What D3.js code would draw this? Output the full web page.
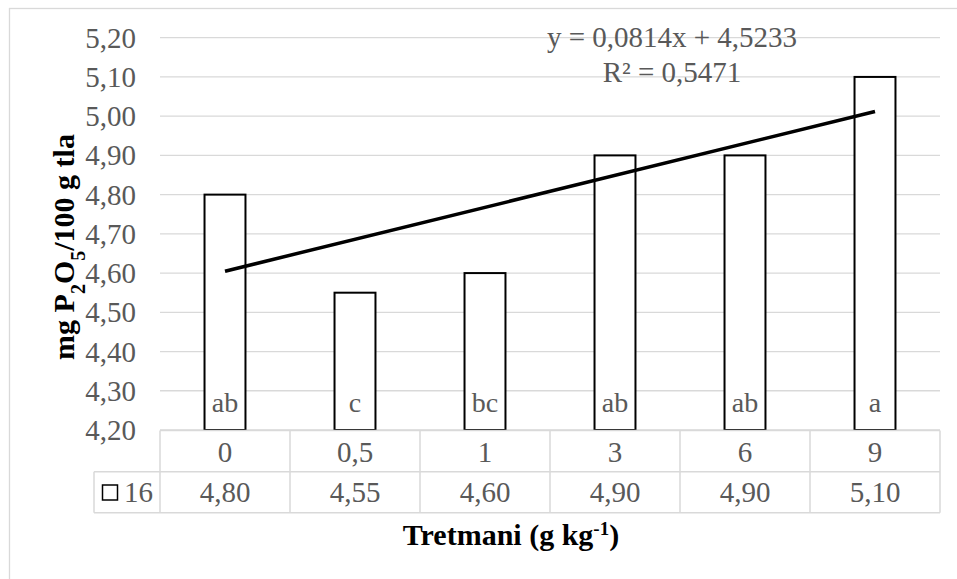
<!DOCTYPE html>
<html><head><meta charset="utf-8">
<script src="https://cdn.jsdelivr.net/npm/d3@7"></script>
</head>
<body style="margin:0">
<svg id="chart" width="957" height="579"></svg>
<script>
// podaci
const tretmani = ["0", "0,5", "1", "3", "6", "9"];
const vrijednosti = [4.80, 4.55, 4.60, 4.90, 4.90, 5.10];
const slova = ["ab", "c", "bc", "ab", "ab", "a"];
const serija = "16";
const yTicks = [4.2, 4.3, 4.4, 4.5, 4.6, 4.7, 4.8, 4.9, 5.0, 5.1, 5.2];

const FONT = "Times New Roman";
const svg = d3.select("#chart");
const siva = "#595959";
const linija = "#d9d9d9";

// okvir grafikona
svg.append("rect")
  .attr("x", 9.5).attr("y", 8.5).attr("width", 1000).attr("height", 700)
  .attr("fill", "none").attr("stroke", linija).attr("stroke-width", 1.3);

// skale
const x = d3.scaleBand().domain(tretmani).range([160, 940]).padding(0);
const y = d3.scaleLinear().domain([4.2, 5.2]).range([430, 37.7]);
const fmt = v => d3.format(".2f")(v).replace(".", ",");
const cx = i => x(tretmani[i]) + x.bandwidth() / 2;

// mreza (vodoravne linije)
svg.selectAll(".grid").data(yTicks).enter().append("line")
  .attr("x1", 160).attr("x2", 940)
  .attr("y1", d => y(d)).attr("y2", d => y(d))
  .attr("stroke", linija).attr("stroke-width", 1.3);

// oznake osi Y
svg.selectAll(".ytick").data(yTicks).enter().append("text")
  .attr("x", 136).attr("y", d => y(d) + 10)
  .attr("text-anchor", "end")
  .attr("font-family", FONT).attr("font-size", 29).attr("fill", siva)
  .text(d => fmt(d));

// stupci
const bw = x.bandwidth() * 0.315;
svg.selectAll(".bar").data(vrijednosti).enter().append("rect")
  .attr("x", (d, i) => cx(i) - bw / 2)
  .attr("y", d => y(d))
  .attr("width", bw)
  .attr("height", d => y(4.2) - y(d))
  .attr("fill", "#fff").attr("stroke", "#000").attr("stroke-width", 2);

// slova znacajnosti
svg.selectAll(".slovo").data(slova).enter().append("text")
  .attr("x", (d, i) => cx(i)).attr("y", 412)
  .attr("text-anchor", "middle")
  .attr("font-family", FONT).attr("font-size", 28).attr("fill", siva)
  .text(d => d);

// linearni trend (najmanji kvadrati, x = 1..n)
const n = vrijednosti.length;
const xs = d3.range(1, n + 1);
const mx = d3.mean(xs), my = d3.mean(vrijednosti);
const sxy = d3.sum(xs, (v, i) => (v - mx) * (vrijednosti[i] - my));
const sxx = d3.sum(xs, v => (v - mx) ** 2);
const syy = d3.sum(vrijednosti, v => (v - my) ** 2);
const k = sxy / sxx, b = my - k * mx;
const r2 = (sxy * sxy) / (sxx * syy);

svg.append("path")
  .datum([1, n])
  .attr("d", d3.line().x(d => cx(d - 1)).y(d => y(k * d + b)))
  .attr("stroke", "#000").attr("stroke-width", 3.5).attr("fill", "none");

const f4 = v => d3.format(".4f")(v).replace(".", ",");
svg.append("text").attr("x", 672).attr("y", 47).attr("text-anchor", "middle")
  .attr("font-family", FONT).attr("font-size", 29).attr("fill", siva)
  .text(`y = ${f4(k)}x + ${f4(b)}`);
svg.append("text").attr("x", 672).attr("y", 82).attr("text-anchor", "middle")
  .attr("font-family", FONT).attr("font-size", 29).attr("fill", siva)
  .text(`R² = ${f4(r2)}`);

// tablica podataka
const r0 = 430.5, r1 = 471.7, r2y = 512.7;
const tab = svg.append("g").attr("stroke", linija).attr("stroke-width", 1.5);
tab.append("line").attr("x1", 160).attr("x2", 940).attr("y1", r0).attr("y2", r0);
tab.append("line").attr("x1", 94).attr("x2", 940).attr("y1", r1).attr("y2", r1);
tab.append("line").attr("x1", 94).attr("x2", 940).attr("y1", r2y).attr("y2", r2y);
tab.append("line").attr("x1", 94).attr("x2", 94).attr("y1", r1).attr("y2", r2y);
tab.selectAll(".v").data(tretmani.map(d => x(d)).concat([940])).enter().append("line")
  .attr("x1", d => d).attr("x2", d => d)
  .attr("y1", r0).attr("y2", r2y);

svg.selectAll(".kat").data(tretmani).enter().append("text")
  .attr("x", (d, i) => cx(i)).attr("y", 462)
  .attr("text-anchor", "middle")
  .attr("font-family", FONT).attr("font-size", 29).attr("fill", siva)
  .text(d => d);

svg.selectAll(".val").data(vrijednosti).enter().append("text")
  .attr("x", (d, i) => cx(i)).attr("y", 502)
  .attr("text-anchor", "middle")
  .attr("font-family", FONT).attr("font-size", 29).attr("fill", siva)
  .text(d => fmt(d));

// legenda u tablici
svg.append("rect").attr("x", 102.5).attr("y", 485).attr("width", 15).attr("height", 15)
  .attr("fill", "#fff").attr("stroke", "#000").attr("stroke-width", 1.5);
svg.append("text").attr("x", 124).attr("y", 502)
  .attr("font-family", FONT).attr("font-size", 29).attr("fill", siva)
  .text(serija);

// naslovi osi
const yt = svg.append("text")
  .attr("transform", "translate(74,247) rotate(-90)")
  .attr("text-anchor", "middle")
  .attr("font-family", FONT).attr("font-size", 30).attr("font-weight", "bold").attr("fill", "#000");
yt.append("tspan").text("mg P");
yt.append("tspan").attr("baseline-shift", "sub").attr("font-size", 20).text("2");
yt.append("tspan").text("O");
yt.append("tspan").attr("baseline-shift", "sub").attr("font-size", 20).text("5");
yt.append("tspan").text("/100 g tla");

const xt = svg.append("text")
  .attr("x", 511).attr("y", 545)
  .attr("text-anchor", "middle")
  .attr("font-family", FONT).attr("font-size", 30).attr("font-weight", "bold").attr("fill", "#000");
xt.append("tspan").text("Tretmani (g kg");
xt.append("tspan").attr("baseline-shift", "super").attr("font-size", 19).text("-1");
xt.append("tspan").text(")");
</script>
</body></html>
